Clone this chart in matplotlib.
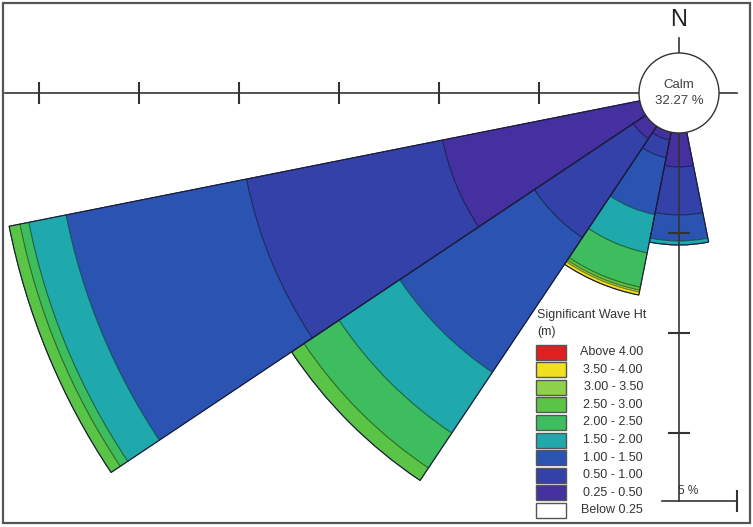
import matplotlib
matplotlib.use("Agg")
import matplotlib.pyplot as plt
from matplotlib.patches import Wedge, Circle, Rectangle
import numpy as np

plt.rcParams['font.family'] = ['Liberation Sans', 'DejaVu Sans']

# ---------------- data ----------------
calm_pct = 32.27
directions = ['S', 'SSW', 'SW', 'WSW']
bearings = [180.0, 202.5, 225.0, 247.5]
bins = ['0.25 - 0.50', '0.50 - 1.00', '1.00 - 1.50', '1.50 - 2.00',
        '2.00 - 2.50', '2.50 - 3.00', '3.00 - 3.50', '3.50 - 4.00', 'Above 4.00']
# percentage of occurrence per direction, per wave-height bin (low -> high)
s_vals   = [1.70, 2.40, 1.30, 0.20, 0.00, 0.00, 0.00, 0.00, 0.00]
ssw_vals = [0.40, 0.90, 2.90, 1.95, 1.75, 0.15, 0.10, 0.15, 0.00]
sw_vals  = [0.75, 5.95, 8.10, 3.65, 2.10, 0.75, 0.00, 0.00, 0.00]
wsw_vals = [10.05, 10.00, 9.20, 1.90, 0.45, 0.55, 0.00, 0.00, 0.00]
legend_labels = ['Above 4.00', '3.50 - 4.00', '3.00 - 3.50', '2.50 - 3.00',
                 '2.00 - 2.50', '1.50 - 2.00', '1.00 - 1.50', '0.50 - 1.00',
                 '0.25 - 0.50', 'Below 0.25']
axis_ticks = [5, 10, 15, 20, 25, 30]
vert_ticks = [5, 10, 15]

colors = ['#44309f', '#3341a8', '#2b53b1', '#1fa9ad', '#3dbd5e',
          '#5ac446', '#8fd14a', '#f0e020', '#e02020']
legend_colors = ['#e02020', '#f0e020', '#8fd14a', '#5ac446', '#3dbd5e',
                 '#1fa9ad', '#2b53b1', '#3341a8', '#44309f', '#ffffff']

values = [s_vals, ssw_vals, sw_vals, wsw_vals]

# ---------------- figure ----------------
W, H = 753, 527
fig = plt.figure(figsize=(W / 100, H / 100), dpi=100)
ax = fig.add_axes([0, 0, 1, 1])
scale = 20.0  # px per percent
cx, cy = 679, 93
ax.set_xlim(-cx / scale, (W - cx) / scale)
ax.set_ylim(-(H - cy) / scale, cy / scale)
ax.set_aspect('auto')
ax.axis('off')

calm_r = 2.0
half = 11.25


def darker(c, f=0.6):
    rgb = np.array(matplotlib.colors.to_rgb(c))
    return tuple(rgb * f)


for b, vals in zip(bearings, values):
    th_c = 90.0 - b
    t1, t2 = th_c - half, th_c + half
    r0 = calm_r
    for v, col in zip(vals, colors):
        if v <= 0:
            continue
        ax.add_patch(Wedge((0, 0), r0 + v, t1, t2, width=v, facecolor=col,
                           edgecolor=darker(col, 0.55), lw=0.7, zorder=2))
        r0 += v
    ax.add_patch(Wedge((0, 0), r0, t1, t2, width=r0 - calm_r * 0.9, fill=False,
                       edgecolor='#1c1c3c', lw=0.8, zorder=3))

# axes lines
lc = '#333333'
ax.plot([-(cx - 5) / scale, (737 - cx) / scale], [0, 0], color=lc, lw=1.2, zorder=4)
ax.plot([0, 0], [(cy - 38) / scale, -(501 - cy) / scale], color=lc, lw=1.2, zorder=4)
for t in axis_ticks:
    x = -(calm_r + t)
    ax.plot([x, x], [-0.5, 0.5], color=lc, lw=1.5, zorder=4)
for t in vert_ticks:
    y = -(calm_r + t)
    ax.plot([-0.5, 0.5], [y, y], color=lc, lw=1.5, zorder=4)

# scale bar
yb = -(501 - cy) / scale
ax.plot([(662 - cx) / scale, (737 - cx) / scale], [yb, yb], color=lc, lw=1.2, zorder=4)
ax.plot([(737 - cx) / scale] * 2, [yb - 0.5, yb + 0.5], color=lc, lw=1.5, zorder=4)
ax.text(0.45, yb + 0.2, '5 %', ha='center', va='bottom', fontsize=8.5,
        color='#333333', zorder=6)

# calm circle
ax.add_patch(Circle((0, 0), calm_r, facecolor='white', edgecolor='#333333',
                    lw=1.0, zorder=5))
ax.text(0, 0.4, 'Calm', ha='center', va='center', fontsize=9.5, color='#404040', zorder=6)
ax.text(0, -0.42, f'{calm_pct:.2f} %', ha='center', va='center', fontsize=9.5,
        color='#404040', zorder=6)
ax.text(0, (cy - 20) / scale, 'N', ha='center', va='center', fontsize=17,
        color='#222222', zorder=6)

# overlay in pixel coords for frame & legend
ov = fig.add_axes([0, 0, 1, 1])
ov.set_xlim(0, W)
ov.set_ylim(H, 0)
ov.axis('off')
ov.patch.set_alpha(0)
ov.add_patch(Rectangle((3, 3), W - 6, H - 7, fill=False, edgecolor='#555555', lw=1.6))

ov.text(537, 315, 'Significant Wave Ht', ha='left', va='center', fontsize=9, color='#333333')
ov.text(537, 332, '(m)', ha='left', va='center', fontsize=9, color='#333333')
for i, (lab, col) in enumerate(zip(legend_labels, legend_colors)):
    yc = 352 + 17.6 * i
    ov.add_patch(Rectangle((536, yc - 7.5), 30, 15, facecolor=col,
                           edgecolor='#555555', lw=1.0))
    ov.text(643, yc, lab, ha='right', va='center', fontsize=9, color='#333333')

fig.savefig('out.png', dpi=100)
